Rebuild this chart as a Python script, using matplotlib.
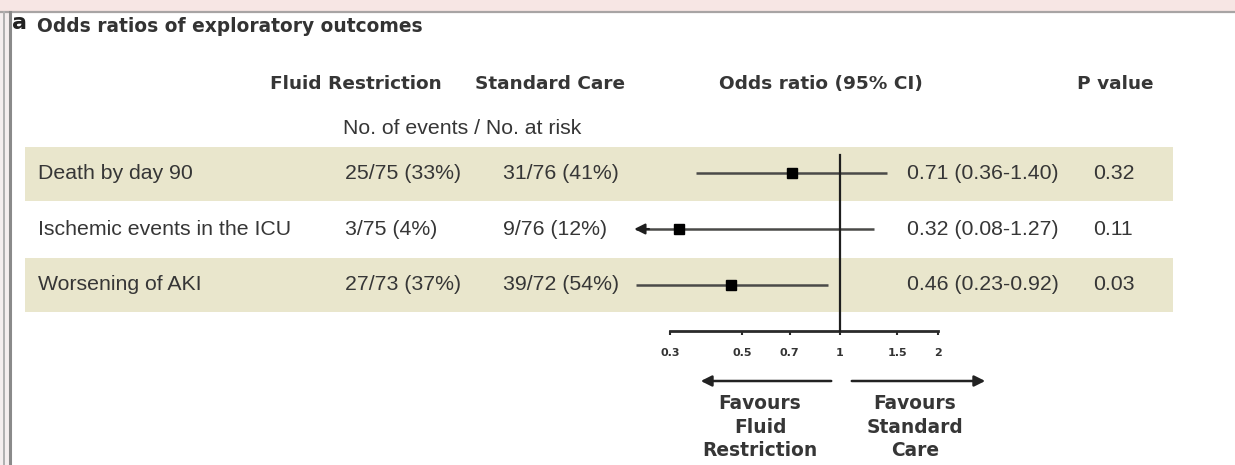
import numpy as np
import matplotlib
matplotlib.use("Agg")
import matplotlib.pyplot as plt
from matplotlib.patches import Rectangle

# ---------------- data ----------------
outcomes = ["Death by day 90", "Ischemic events in the ICU", "Worsening of AKI"]
fluid_restriction = ["25/75 (33%)", "3/75 (4%)", "27/73 (37%)"]
standard_care = ["31/76 (41%)", "9/76 (12%)", "39/72 (54%)"]
odds_ratio = [0.71, 0.32, 0.46]
ci_low = [0.36, 0.08, 0.23]
ci_high = [1.40, 1.27, 0.92]
p_values = ["0.32", "0.11", "0.03"]
tick_values = [0.3, 0.5, 0.7, 1, 1.5, 2]
tick_labels = ["0.3", "0.5", "0.7", "1", "1.5", "2"]

W, H = 1235, 465
fig = plt.figure(figsize=(W / 100, H / 100), dpi=100)
fig.patch.set_facecolor("white")

# background axes in pixel coordinates
bg = fig.add_axes([0, 0, 1, 1])
bg.set_xlim(0, W)
bg.set_ylim(H, 0)
bg.axis("off")

TXT = "#363636"
SHADE = "#e9e6cc"
FONT = "Liberation Sans"
BODY = 15.3
HDR = 13.3

# screenshot chrome
bg.add_patch(Rectangle((0, 0), W, 11, color="#f7e6e4", lw=0))
bg.plot([0, W], [12, 12], color="#a8a4a4", lw=1.6)
bg.add_patch(Rectangle((0, 12), 12, H, color="#f4eeee", lw=0))
bg.plot([3.5, 3.5], [12, H], color="#b0b0b0", lw=1.4)
bg.plot([10, 10], [12, H], color="#8a8a8a", lw=2.2)

# title
bg.text(12, 23, "a", fontsize=16, fontweight="bold", color="#222222",
        family="DejaVu Sans", va="center", ha="left")
bg.text(37, 26, "Odds ratios of exploratory outcomes", fontsize=13.4,
        fontweight="bold", color="#333333", family="DejaVu Sans",
        va="center", ha="left")

# headers
hdr_y = 84
bg.text(356, hdr_y, "Fluid Restriction", fontsize=HDR, fontweight="bold",
        color=TXT, family="DejaVu Sans", ha="center", va="center")
bg.text(550, hdr_y, "Standard Care", fontsize=HDR, fontweight="bold",
        color=TXT, family="DejaVu Sans", ha="center", va="center")
bg.text(821, hdr_y, "Odds ratio (95% CI)", fontsize=HDR, fontweight="bold",
        color=TXT, family="DejaVu Sans", ha="center", va="center")
bg.text(1115, hdr_y, "P value", fontsize=HDR, fontweight="bold",
        color=TXT, family="DejaVu Sans", ha="center", va="center")
bg.text(462, 128, "No. of events / No. at risk", fontsize=BODY,
        color=TXT, family=FONT, ha="center", va="center")

# rows
row_y0, row_dy = 173.5, 55.5
for i, name in enumerate(outcomes):
    y = row_y0 + i * row_dy
    if i % 2 == 0:
        bg.add_patch(Rectangle((25, y - 27), 1148, 54, color=SHADE, lw=0, zorder=0))
    bg.text(38, y, name, fontsize=BODY, color=TXT, family=FONT,
            ha="left", va="center")
    bg.text(345, y, fluid_restriction[i], fontsize=BODY, color=TXT,
            family=FONT, ha="left", va="center")
    bg.text(503, y, standard_care[i], fontsize=BODY, color=TXT,
            family=FONT, ha="left", va="center")
    bg.text(907, y, f"{odds_ratio[i]:.2f} ({ci_low[i]:.2f}-{ci_high[i]:.2f})",
            fontsize=BODY, color=TXT, family=FONT, ha="left", va="center")
    bg.text(1093, y, p_values[i], fontsize=BODY, color=TXT, family=FONT,
            ha="left", va="center")

# forest axes (log scale); x pixel = 840 + 141*ln(OR)
ax_left_px, ax_right_px = 600, 1000
ax_top_px, ax_bot_px = 146, 331
ppl = 141.0
or_left = np.exp((ax_left_px - 840) / ppl)
or_right = np.exp((ax_right_px - 840) / ppl)
ax = fig.add_axes([ax_left_px / W, (H - ax_bot_px) / H,
                   (ax_right_px - ax_left_px) / W, (ax_bot_px - ax_top_px) / H])
ax.set_xscale("log")
ax.set_xlim(or_left, or_right)
ax.patch.set_alpha(0)
ylo = (ax_bot_px - row_y0) / row_dy
yhi = (ax_top_px - row_y0) / row_dy
ax.set_ylim(ylo, yhi)
for s in ["top", "left", "right"]:
    ax.spines[s].set_visible(False)
ax.spines["bottom"].set_bounds(tick_values[0], tick_values[-1])
ax.spines["bottom"].set_linewidth(2.0)
ax.spines["bottom"].set_color("#2a2a2a")
ax.set_yticks([])
ax.set_xticks(tick_values)
ax.set_xticklabels(tick_labels)
ax.minorticks_off()
ax.tick_params(axis="x", direction="out", length=3, width=1.5, color="#2a2a2a",
               labelsize=8, pad=9, labelcolor="#333333")
for lab in ax.get_xticklabels():
    lab.set_fontweight("bold")
    lab.set_family("DejaVu Sans")

ax.plot([1, 1], [ylo, (155 - row_y0) / row_dy], color="#1e1e1e", lw=1.6,
        clip_on=False, zorder=3)

clip_low = 0.235
for i in range(len(outcomes)):
    lo = max(ci_low[i], clip_low)
    ax.plot([lo, ci_high[i]], [i, i], color="#4a4a48", lw=1.8, zorder=2,
            solid_capstyle="butt")
    if ci_low[i] < tick_values[0] / 1.5:
        ax.annotate("", xy=(clip_low * 0.97, i), xytext=(clip_low * 1.12, i),
                    arrowprops=dict(arrowstyle="-|>", color="#1e1e1e",
                                    lw=1.5, mutation_scale=16))
    ax.plot(odds_ratio[i], i, marker="s", color="black", ms=7, zorder=4)

# favours arrows & labels
bg.annotate("", xy=(698, 381), xytext=(834, 381),
            arrowprops=dict(arrowstyle="-|>", color="#222222", lw=1.8,
                            mutation_scale=16))
bg.annotate("", xy=(988, 381), xytext=(849, 381),
            arrowprops=dict(arrowstyle="-|>", color="#222222", lw=1.8,
                            mutation_scale=16))
bg.text(760, 427, "Favours\nFluid\nRestriction", fontsize=13.4,
        fontweight="bold", color=TXT, family="DejaVu Sans", ha="center",
        va="center", linespacing=1.32)
bg.text(915, 427, "Favours\nStandard\nCare", fontsize=13.4,
        fontweight="bold", color=TXT, family="DejaVu Sans", ha="center",
        va="center", linespacing=1.32)

fig.savefig("out.png", dpi=100)
